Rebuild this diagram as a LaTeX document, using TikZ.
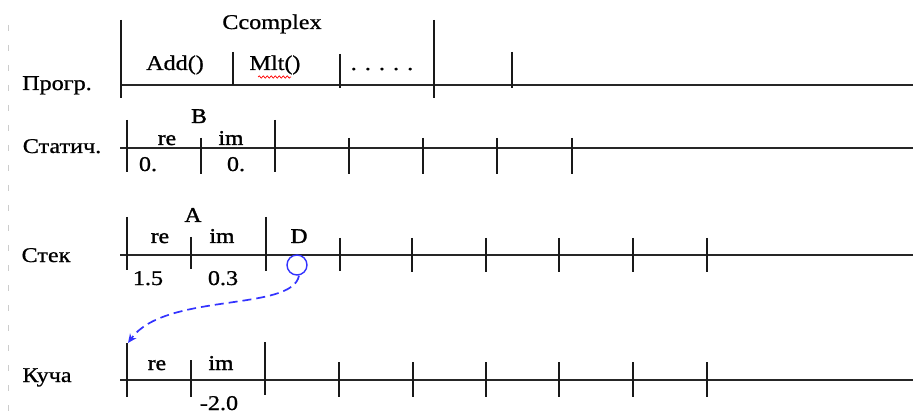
\documentclass[tikz,border=0pt]{standalone}
\usepackage{fontspec}
\setmainfont[FakeStretch=1.15,FakeBold=0.8]{Liberation Serif}
\newfontfamily\fieldfont[FakeStretch=1.12,FakeBold=1.6]{Liberation Serif}
\usetikzlibrary{decorations.pathmorphing,arrows.meta}
\begin{document}
\begin{tikzpicture}[x=1pt,y=-1pt,
  axis/.style={line width=1.5pt, black!85},
  tick/.style={line width=1.5pt, black!90},
  lbl/.style={inner sep=0pt, anchor=base, font=\fontsize{21}{21}\selectfont},
  fld/.style={inner sep=0pt, anchor=base, font=\fieldfont\fontsize{21}{21}\selectfont},
  ptr/.style={draw=blue!80, line width=1.7pt},
]
\useasboundingbox (0,0) rectangle (913,414);
% faint margin marks
\draw[gray!40, line width=1pt, dash pattern=on 6pt off 14pt] (8,25) -- (8,414);

% row 1: program
\draw[axis] (120,85) -- (913,85);
\foreach \x/\a/\b in {121/20/98, 233/52/85, 340/54/88, 434/20/98, 512/52/88}
  \draw[tick] (\x,\a) -- (\x,\b);
\node[lbl] (prog) at (57,90) {Прогр.};
\node[lbl] (ccomplex) at (272,29) {Ccomplex};
\node[lbl] (add) at (175,70) {Add()};
\node[lbl] (mlt) at (275,70) {Mlt()};
\node[lbl] (dots) at (382,70) {. . . . .};
\draw[red, line width=0.7pt, decorate, decoration={snake, amplitude=1.1pt, segment length=4pt}] (258,77) -- (291,77);

% row 2: static
\draw[axis] (120,148) -- (913,148);
\foreach \x/\a/\b in {127/120/172, 201/138/174, 275/120/172, 349/138/174, 423/138/174, 497/138/174, 572/138/174}
  \draw[tick] (\x,\a) -- (\x,\b);
\node[lbl] (stat) at (62,153) {Статич.};
\node[fld] (B) at (199,123) {B};
\node[fld] (bre) at (167,145) {re};
\node[fld] (bim) at (231,145) {im};
\node[lbl] (bv1) at (148,171) {0.};
\node[lbl] (bv2) at (236,171) {0.};

% row 3: stack
\draw[axis] (120,255) -- (913,255);
\foreach \x/\a/\b in {127/217/270, 191/237/269, 266/217/271, 340/238/271, 412/238/272, 486/238/272, 559/238/272, 633/238/272, 707/238/272}
  \draw[tick] (\x,\a) -- (\x,\b);
\node[lbl] (stack) at (46,262) {Стек};
\node[fld] (A) at (193,222) {A};
\node[fld] (are) at (160,243) {re};
\node[fld] (aim) at (222,243) {im};
\node[fld] (D) at (299,243) {D};
\node[lbl] (av1) at (148,285) {1.5};
\node[lbl] (av2) at (223,285) {0.3};
\node[draw=blue!80, circle, minimum size=20pt, inner sep=0pt, line width=1.4pt] (dcirc) at (297,265) {};

% row 4: heap
\draw[axis] (120,380) -- (913,380);
\foreach \x/\a/\b in {127/343/397, 191/360/397, 265/342/395, 339/362/397, 413/362/397, 486/362/397, 559/362/397, 633/362/397, 707/362/397}
  \draw[tick] (\x,\a) -- (\x,\b);
\node[lbl] (heaplbl) at (47,382) {Куча};
\node[fld] (hre) at (157,370) {re};
\node[fld] (him) at (221,370) {im};
\node[lbl] (hv2) at (219,410) {-2.0};
\coordinate (heap) at (128,343);

% pointer
\draw[ptr, dash pattern=on 9pt off 5pt, -{Stealth[length=9pt,width=8pt]}] ([xshift=2pt]dcirc.south) .. controls (292,312) and (165,292) .. (heap);
\end{tikzpicture}
\end{document}
